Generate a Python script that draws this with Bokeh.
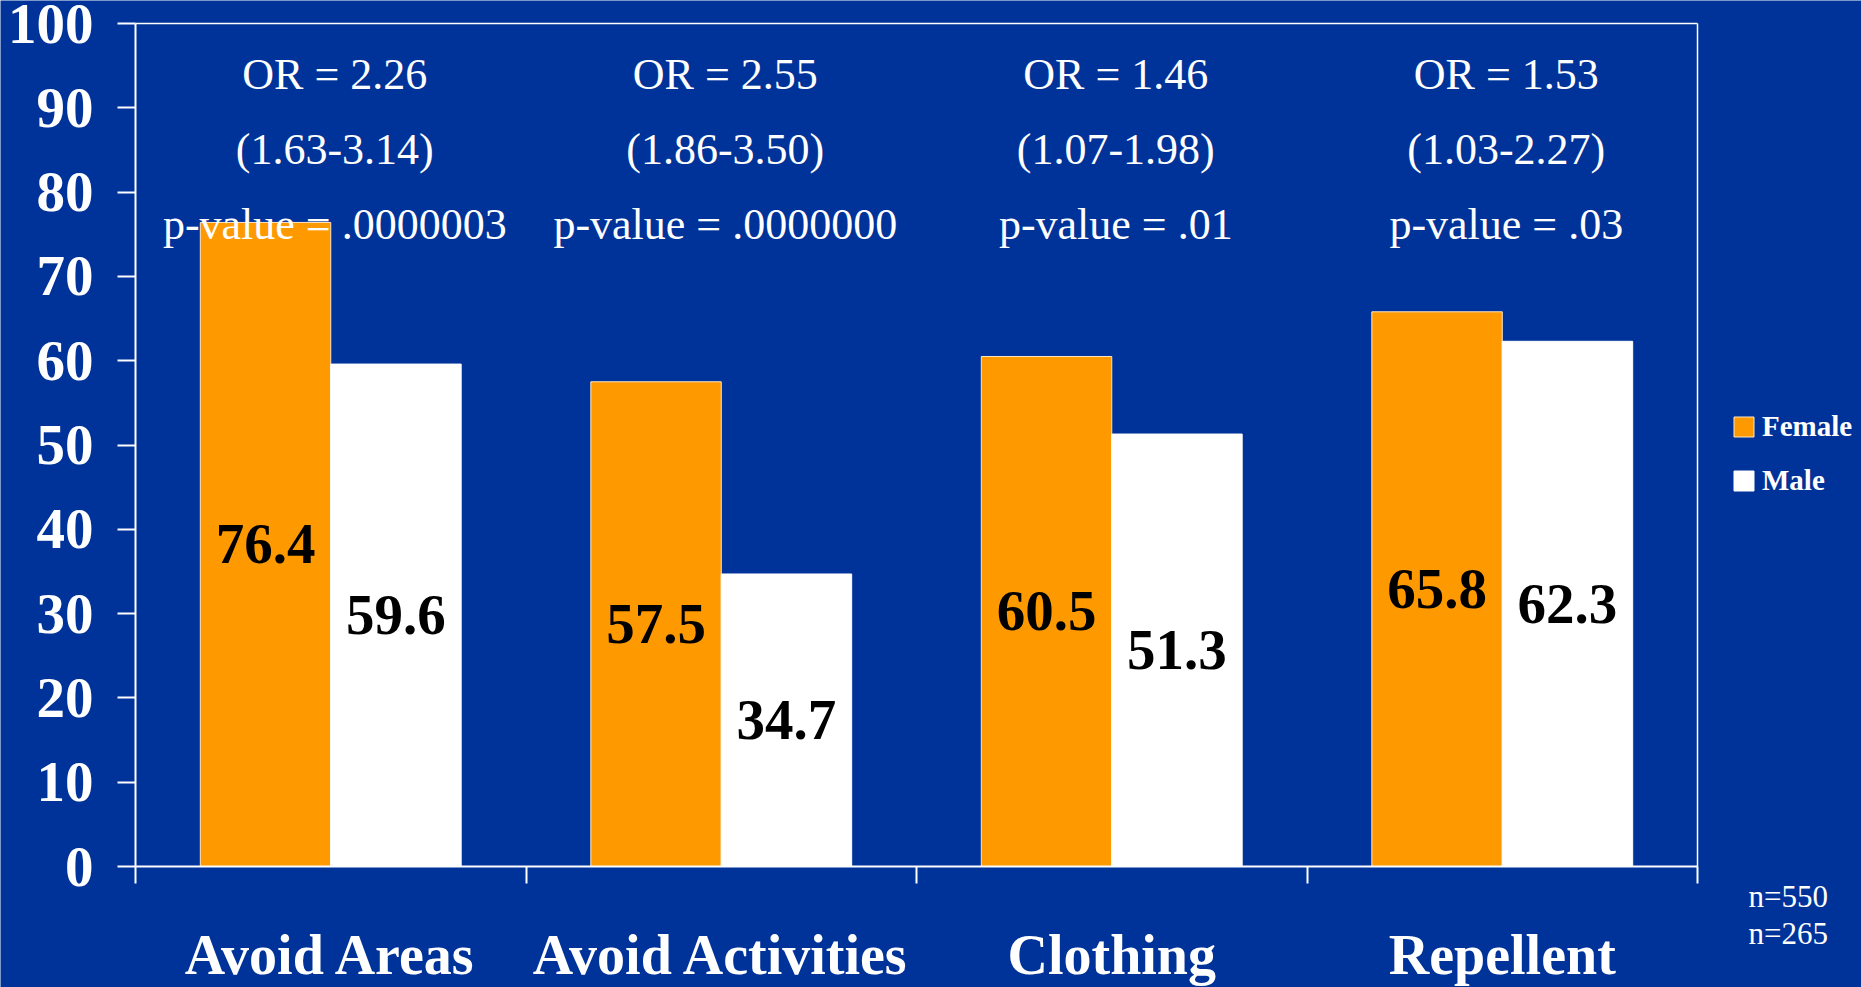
from bokeh.plotting import figure
from bokeh.models import (Range1d, FixedTicker, Label, Legend, LegendItem,
                          ColumnDataSource, LinearAxis)
from bokeh.transform import dodge
from bokeh.core.properties import value
from bokeh.embed import file_html
from bokeh.resources import INLINE

# ---- data ----
categories = ["Avoid Areas", "Avoid Activities", "Clothing", "Repellent"]
series = ["Female", "Male"]
female = [76.4, 57.5, 60.5, 65.8]
male = [59.6, 34.7, 51.3, 62.3]
or_labels = ["OR = 2.26", "OR = 2.55", "OR = 1.46", "OR = 1.53"]
ci_labels = ["(1.63-3.14)", "(1.86-3.50)", "(1.07-1.98)", "(1.03-2.27)"]
p_labels = ["p-value = .0000003", "p-value = .0000000", "p-value = .01", "p-value = .03"]
n_labels = ["n=550", "n=265"]
y_ticks = [0, 10, 20, 30, 40, 50, 60, 70, 80, 90, 100]

# ---- style / layout ----
BG = "#003399"
ORANGE = "#FF9900"
WHITE = "#FFFFFF"
FONT = "Liberation Serif"
BAR_W = 0.334
OFF = BAR_W / 2
W, H = 1861, 987
AX_L, AX_R, AX_T, AX_B = 135, 1697, 23, 866     # pixel box of the plotting area
Y_MAX = 100

n = len(categories)
xpu = (AX_R - AX_L) / n          # px per category
ypu = (AX_B - AX_T) / Y_MAX      # px per unit
x_start = -AX_L / xpu
x_end = n + (W - AX_R) / xpu
y_start = -(H - AX_B) / ypu
y_end = Y_MAX + AX_T / ypu

xc = [i + 0.5 for i in range(n)]

src = ColumnDataSource(dict(
    x=xc, cat=categories,
    female=female, male=male,
    female_mid=[v / 2 for v in female], male_mid=[v / 2 for v in male],
    female_lbl=[f"{v:.1f}" for v in female], male_lbl=[f"{v:.1f}" for v in male],
    or_lbl=or_labels, ci_lbl=ci_labels, p_lbl=p_labels,
    y_or=[94.0] * n, y_ci=[85.1] * n, y_p=[76.1] * n,
))

p = figure(width=W, height=H, output_backend="svg", toolbar_location=None,
           x_range=Range1d(x_start, x_end), y_range=Range1d(y_start, y_end),
           min_border=0, min_border_left=0, min_border_right=0,
           min_border_top=0, min_border_bottom=0,
           background_fill_color=BG, border_fill_color=BG,
           outline_line_color=None, x_axis_location=None, y_axis_location=None)
p.grid.visible = False

rf = p.vbar(x=dodge("x", -OFF), top="female", width=BAR_W, source=src,
            fill_color=ORANGE, line_color="#FFE6C0", line_width=1)
rm = p.vbar(x=dodge("x", OFF), top="male", width=BAR_W, source=src,
            fill_color=WHITE, line_color=WHITE, line_width=1)

for col_x, ycol, tcol in [(-OFF, "female_mid", "female_lbl"), (OFF, "male_mid", "male_lbl")]:
    p.text(x=dodge("x", col_x), y=ycol, text=tcol, source=src,
           text_font=value(FONT), text_font_style="bold", text_font_size="57px",
           text_align="center", text_baseline="middle", text_color="black")

for ycol, tcol in [("y_or", "or_lbl"), ("y_ci", "ci_lbl"), ("y_p", "p_lbl")]:
    p.text(x="x", y=ycol, text=tcol, source=src, x_offset=4,
           text_font=value(FONT), text_font_size="44px",
           text_align="center", text_baseline="middle", text_color=WHITE)

# y axis (fixed at x = 0)
ya = LinearAxis(fixed_location=0, bounds=(0, Y_MAX), ticker=FixedTicker(ticks=y_ticks))
ya.axis_line_color = WHITE
ya.axis_line_width = 2
ya.major_tick_line_color = WHITE
ya.major_tick_line_width = 2
ya.major_tick_in = 0
ya.major_tick_out = 18
ya.minor_tick_line_color = None
ya.major_label_standoff = 24
ya.major_label_text_font = FONT
ya.major_label_text_font_style = "bold"
ya.major_label_text_font_size = "57px"
ya.major_label_text_color = WHITE
p.add_layout(ya, "left")

# x axis (fixed at y = 0)
xa = LinearAxis(fixed_location=0, bounds=(0, n),
                ticker=FixedTicker(ticks=xc, minor_ticks=list(range(n + 1))))
xa.major_label_overrides = {x: c for x, c in zip(xc, categories)}
xa.axis_line_color = WHITE
xa.axis_line_width = 2
xa.major_tick_line_color = None
xa.major_tick_in = 0
xa.major_tick_out = 0
xa.minor_tick_line_color = WHITE
xa.minor_tick_line_width = 2
xa.minor_tick_in = 0
xa.minor_tick_out = 17
xa.major_label_standoff = 40
xa.major_label_text_font = FONT
xa.major_label_text_font_style = "bold"
xa.major_label_text_font_size = "56px"
xa.major_label_text_color = WHITE
p.add_layout(xa, "below")

# frame lines on top and right
top_ax = LinearAxis(fixed_location=Y_MAX, bounds=(0, n), ticker=FixedTicker(ticks=[]),
                    axis_line_color=WHITE, axis_line_width=1.5,
                    major_tick_line_color=None, minor_tick_line_color=None,
                    major_label_text_font_size="0px")
p.add_layout(top_ax, "above")
right_ax = LinearAxis(fixed_location=n, bounds=(0, Y_MAX), ticker=FixedTicker(ticks=[]),
                      axis_line_color=WHITE, axis_line_width=1.5,
                      major_tick_line_color=None, minor_tick_line_color=None,
                      major_label_text_font_size="0px")
p.add_layout(right_ax, "right")

legend = Legend(items=[LegendItem(label=series[0], renderers=[rf]),
                       LegendItem(label=series[1], renderers=[rm])],
                location=(1731, H - 497), orientation="vertical",
                glyph_width=25, glyph_height=25, label_height=30, spacing=21,
                padding=0, margin=0, label_standoff=6,
                border_line_color=None, background_fill_alpha=0,
                label_text_font=FONT, label_text_font_style="bold",
                label_text_font_size="29px", label_text_color=WHITE)
p.add_layout(legend)

for txt, ypx in zip(n_labels, [896, 933]):
    p.add_layout(Label(x=1748, y=H - ypx, x_units="screen", y_units="screen",
                       text=txt, text_font=FONT, text_font_size="31px",
                       text_color=WHITE, text_baseline="middle", text_align="left"))

html = file_html(p, INLINE)
html = html.replace("<body>", '<body style="background:#003399">', 1)
open("out.html", "w").write(html)
